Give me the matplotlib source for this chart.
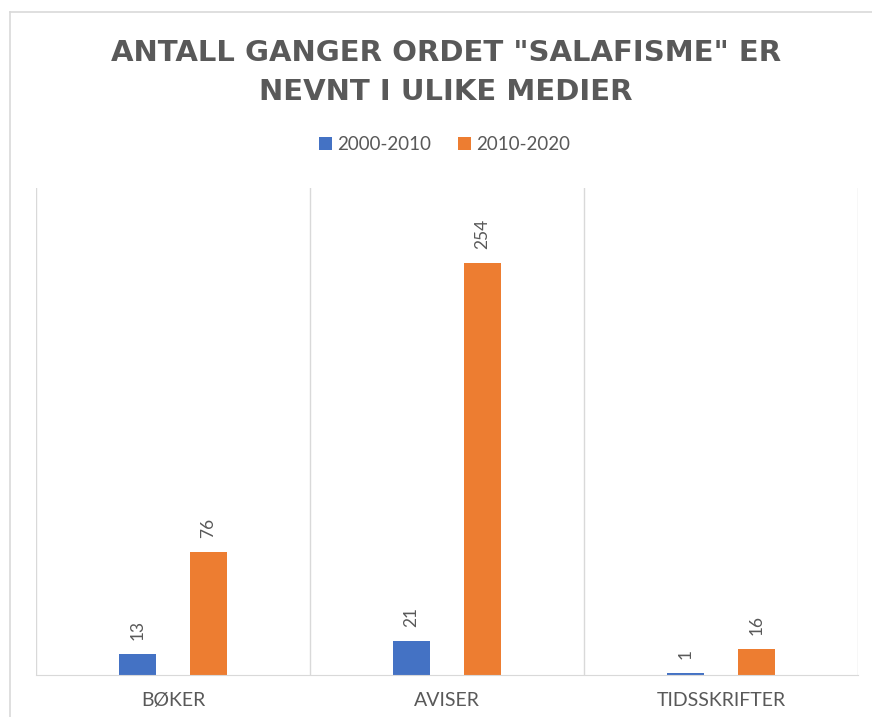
import matplotlib.pyplot as plt
import numpy as np
from matplotlib.lines import Line2D

# data
categories = ["BØKER", "AVISER", "TIDSSKRIFTER"]
series_names = ["2000-2010", "2010-2020"]
vals_2000_2010 = [13, 21, 1]
vals_2010_2020 = [76, 254, 16]

BLUE = "#4472C4"
ORANGE = "#ED7D31"
TXT = "#595959"
GRID = "#D9D9D9"

plt.rcParams['font.family'] = ['Lato', 'DejaVu Sans']

fig = plt.figure(figsize=(8.72, 7.17), dpi=100)
ax = fig.add_axes([36 / 872, 42 / 717, 822 / 872, 487 / 717])

x = np.arange(len(categories))
w = 0.135
off = 0.13
b1 = ax.bar(x - off, vals_2000_2010, w, color=BLUE, label=series_names[0])
b2 = ax.bar(x + off, vals_2010_2020, w, color=ORANGE, label=series_names[1])

for bars in (b1, b2):
    ax.bar_label(bars, padding=10, rotation=90, color=TXT, fontsize=12.5)

ax.set_xlim(-0.5, len(categories) - 0.5)
ax.set_ylim(0, 300)
ax.set_yticks([])
ax.set_xticks(x)
ax.set_xticklabels(categories, fontsize=14, color=TXT)
ax.tick_params(axis='x', length=0, pad=12)

# category separators
ax.set_xticks(np.arange(-0.5, len(categories), 1.0), minor=True)
ax.tick_params(axis='x', which='minor', length=0)
ax.grid(axis='x', which='minor', color=GRID, linewidth=1)

for s in ('top', 'right', 'left'):
    ax.spines[s].set_visible(False)
ax.spines['bottom'].set_color(GRID)

title_font = ['DejaVu Sans']
fig.text(0.511, 0.926, 'ANTALL GANGER ORDET "SALAFISME" ER', ha='center', va='center',
         fontsize=21, fontweight='bold', color=TXT, family=title_font)
fig.text(0.511, 0.871, 'NEVNT I ULIKE MEDIER', ha='center', va='center',
         fontsize=21, fontweight='bold', color=TXT, family=title_font)

fig.legend(handles=[b1, b2], labels=series_names, loc='center', bbox_to_anchor=(0.51, 0.798),
           ncol=2, frameon=False, fontsize=13.5, labelcolor=TXT, handlelength=0.7,
           handleheight=0.7, handletextpad=0.3, columnspacing=1.4)

# chart frame (only left and top edges are visible in the crop)
fig.add_artist(Line2D([10 / 872, 10 / 872], [0, 1 - 12 / 717], color=GRID, linewidth=1.2,
                      transform=fig.transFigure))
fig.add_artist(Line2D([10 / 872, 1], [1 - 12 / 717, 1 - 12 / 717], color=GRID, linewidth=1.2,
                      transform=fig.transFigure))

fig.savefig('out.png', dpi=100, facecolor='white')
